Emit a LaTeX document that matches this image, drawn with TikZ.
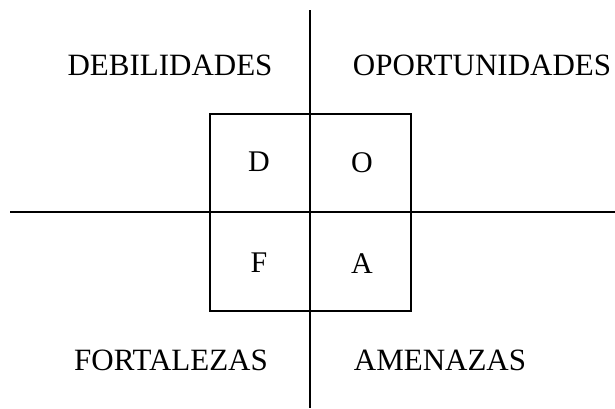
\documentclass[tikz,border=0pt]{standalone}
\usepackage{fontspec}
\setmainfont{Liberation Serif}
\usepackage{tikz}
\usetikzlibrary{positioning}
\tikzset{
  axisline/.style={line width=1.3pt, black},
  quadlabel/.style={font=\fontsize{31}{34}\selectfont, inner sep=0pt, anchor=center},
  letterlabel/.style={font=\fontsize{30}{32}\selectfont, inner sep=0pt, anchor=center}
}

\begin{document}
\begin{tikzpicture}[x=1pt, y=-1pt]
    \useasboundingbox (0,0) rectangle (615,408);

    % Axes
    \draw[axisline] (310,10) -- (310,408);
    \draw[axisline] (10,212) -- (615,212);

    % Central square
    \draw[axisline] (210,114) rectangle (411,311);

    % Quadrant names
    \node[quadlabel] (debilidades) at (170,65) {DEBILIDADES};
    \node[quadlabel] (oportunidades) at (482,65) {OPORTUNIDADES};
    \node[quadlabel] (fortalezas) at (171,360) {FORTALEZAS};
    \node[quadlabel] (amenazas) at (440,360) {AMENAZAS};

    % Letters
    \node[letterlabel] (d) at (259,162) {D};
    \node[letterlabel] (o) at (362,163) {O};
    \node[letterlabel] (f) at (259,263) {F};
    \node[letterlabel] (a) at (362,264) {A};
\end{tikzpicture}
\end{document}
